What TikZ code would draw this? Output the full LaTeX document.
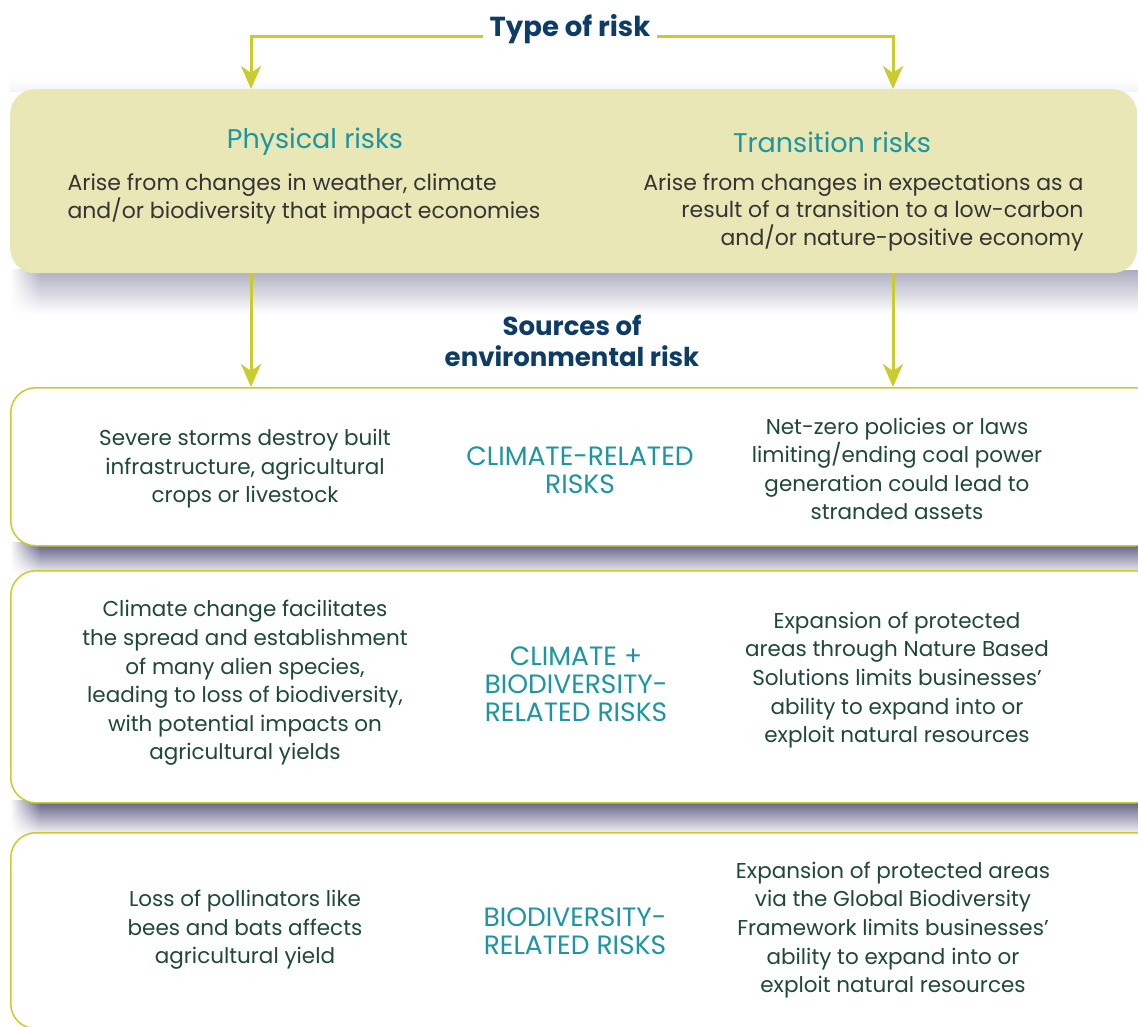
\documentclass[tikz,border=0pt]{standalone}
\usepackage{fontspec}
\setmainfont{Poppins}
\usepackage{tikz}
\usetikzlibrary{arrows.meta,positioning,fadings}

\definecolor{riskgreen}{RGB}{232,231,181}
\definecolor{linkgreen}{RGB}{200,204,46}
\definecolor{titleblue}{RGB}{13,61,102}
\definecolor{riskteal}{RGB}{29,150,160}
\definecolor{bodygrey}{RGB}{52,52,52}
\definecolor{bodygreen}{RGB}{30,72,56}
\definecolor{shadowcol}{RGB}{92,90,130}

\tikzset{
    link/.style={linkgreen, line width=3pt, -{Stealth[length=23pt,width=20pt,inset=7pt]}},
    riskbox/.style={fill=riskgreen, rounded corners=25pt, inner sep=0pt, anchor=north west},
    sourcebox/.style={draw=linkgreen, line width=1.5pt, fill=white, rounded corners=25pt, inner sep=0pt, anchor=north west},
    titletext/.style={text=titleblue, font=\bfseries\fontsize{26}{31}\selectfont, align=center},
    headtext/.style={text=riskteal, font=\fontsize{27}{30}\selectfont},
    bodytext/.style={text=bodygrey, font=\fontsize{22}{27.5}\selectfont},
    sourcetext/.style={text=bodygreen, font=\fontsize{21.5}{28.6}\selectfont, align=center},
    kindtext/.style={text=riskteal, font=\fontsize{26.5}{28}\selectfont, align=center}
}

\begin{document}
\begin{tikzpicture}[x=1pt, y=-1pt]
            \path[use as bounding box, clip] (0,0) rectangle (1138,1027);

            \shade[top color=white, bottom color=shadowcol!7] (10,78) rectangle (1138,92);
            \shade[top color=shadowcol!50, bottom color=white] (40,270) rectangle (1138,314);
            \shade[top color=shadowcol!50, bottom color=white, path fading=west] (10,270) rectangle (40,314);
            \shade[top color=shadowcol, bottom color=white] (40,543) rectangle (1160,576);
            \shade[top color=shadowcol, bottom color=white, path fading=west] (10,543) rectangle (40,576);
            \shade[top color=shadowcol, bottom color=white] (40,800) rectangle (1160,836);
            \shade[top color=shadowcol, bottom color=white, path fading=west] (10,800) rectangle (40,836);

            \node[riskbox, minimum width=1127pt, minimum height=184pt] (risks) at (10,89) {};
            \node[sourcebox, minimum width=1150pt, minimum height=158pt] (climate) at (10,387) {};
            \node[sourcebox, minimum width=1150pt, minimum height=232pt] (both) at (10,570) {};
            \node[sourcebox, minimum width=1150pt, minimum height=196pt] (biodiv) at (10,832) {};

            \coordinate (physline) at (251,0);
            \coordinate (transline) at (893,0);

            \node[titletext, anchor=base, inner xsep=7pt, font=\bfseries\fontsize{27.5}{31}\selectfont] (typerisk) at (570,37) {Type of risk};
            \draw[link] (typerisk.base west) -| (risks.north -| physline);
            \draw[link] (typerisk.base east) -| (risks.north -| transline);

            \node[headtext] (physical) at (315,142) {Physical risks};
            \node[headtext] (transition) at (832,142) {Transition risks};
            \node[bodytext, align=left, anchor=west] (physdesc) at (64,199) {Arise from changes in weather, climate\\and/or biodiversity that impact economies};
            \node[bodytext, align=right, anchor=east] (transdesc) at (1087,212) {Arise from changes in expectations as a\\result of a transition to a low-carbon\\and/or nature-positive economy};

            \node[titletext] (sources) at (572,341) {Sources of\\environmental risk};
            \draw[link] (risks.south -| physline) -- (climate.north -| physline);
            \draw[link] (risks.south -| transline) -- (climate.north -| transline);

            \node[sourcetext] (climphys) at (245,469) {Severe storms destroy built\\infrastructure, agricultural\\crops or livestock};
            \node[kindtext] (climkind) at (580,470) {CLIMATE-RELATED\\RISKS};
            \node[sourcetext] (climtrans) at (897,469) {Net-zero policies or laws\\limiting/ending coal power\\generation could lead to\\stranded assets};

            \node[sourcetext] (bothphys) at (245,683) {Climate change facilitates\\the spread and establishment\\of many alien species,\\leading to loss of biodiversity,\\with potential impacts on\\agricultural yields};
            \node[kindtext] (bothkind) at (576,684) {CLIMATE +\\BIODIVERSITY-\\RELATED RISKS};
            \node[sourcetext] (bothtrans) at (897,680) {Expansion of protected\\areas through Nature Based\\Solutions limits businesses'\\ability to expand into or\\exploit natural resources};

            \node[sourcetext] (bioplys) at (245,930) {Loss of pollinators like\\bees and bats affects\\agricultural yield};
            \node[kindtext] (biokind) at (575,931) {BIODIVERSITY-\\RELATED RISKS};
            \node[sourcetext] (biotrans) at (893,930) {Expansion of protected areas\\via the Global Biodiversity\\Framework limits businesses'\\ability to expand into or\\exploit natural resources};
\end{tikzpicture}
\end{document}
